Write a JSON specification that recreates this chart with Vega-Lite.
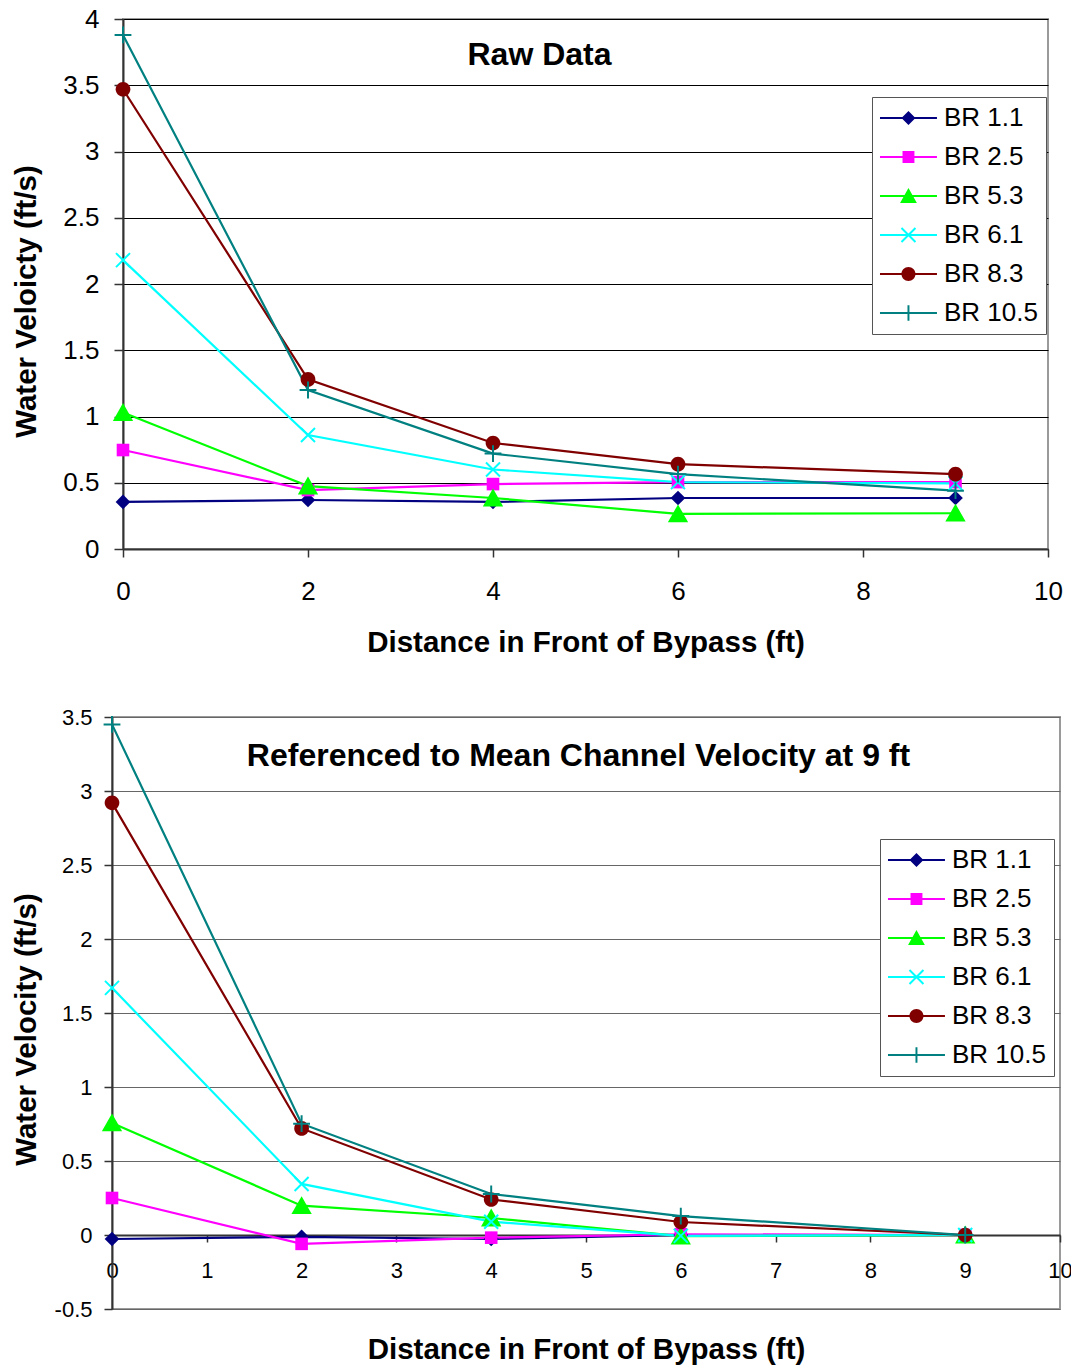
{
  "$schema": "https://vega.github.io/schema/vega-lite/v6.json",
  "background": "white",
  "padding": {"left": 9, "top": 5, "right": 0, "bottom": 0},
  "config": {
    "font": "Liberation Sans",
    "view": {"stroke": "#9a9a9a", "strokeWidth": 2},
    "axis": {"labelColor": "black", "titleColor": "black", "labelFont": "Liberation Sans", "titleFont": "Liberation Sans", "domainColor": "#333333", "domainWidth": 2, "tickColor": "#333333", "tickWidth": 1.5, "labelFlush": false},
    "point": {"filled": true, "opacity": 1, "size": 196, "strokeWidth": 0}
  },
  "datasets": {
    "raw": [
      {"series": "BR 1.1", "dist": 0, "v": 0.355}, {"series": "BR 1.1", "dist": 2, "v": 0.37}, {"series": "BR 1.1", "dist": 4, "v": 0.355}, {"series": "BR 1.1", "dist": 6, "v": 0.385}, {"series": "BR 1.1", "dist": 9, "v": 0.385},
      {"series": "BR 2.5", "dist": 0, "v": 0.747}, {"series": "BR 2.5", "dist": 2, "v": 0.445}, {"series": "BR 2.5", "dist": 4, "v": 0.49}, {"series": "BR 2.5", "dist": 6, "v": 0.505}, {"series": "BR 2.5", "dist": 9, "v": 0.505},
      {"series": "BR 5.3", "dist": 0, "v": 1.03}, {"series": "BR 5.3", "dist": 2, "v": 0.475}, {"series": "BR 5.3", "dist": 4, "v": 0.385}, {"series": "BR 5.3", "dist": 6, "v": 0.265}, {"series": "BR 5.3", "dist": 9, "v": 0.27},
      {"series": "BR 6.1", "dist": 0, "v": 2.18}, {"series": "BR 6.1", "dist": 2, "v": 0.86}, {"series": "BR 6.1", "dist": 4, "v": 0.6}, {"series": "BR 6.1", "dist": 6, "v": 0.505}, {"series": "BR 6.1", "dist": 9, "v": 0.495},
      {"series": "BR 8.3", "dist": 0, "v": 3.47}, {"series": "BR 8.3", "dist": 2, "v": 1.28}, {"series": "BR 8.3", "dist": 4, "v": 0.8}, {"series": "BR 8.3", "dist": 6, "v": 0.64}, {"series": "BR 8.3", "dist": 9, "v": 0.565},
      {"series": "BR 10.5", "dist": 0, "v": 3.88}, {"series": "BR 10.5", "dist": 2, "v": 1.2}, {"series": "BR 10.5", "dist": 4, "v": 0.72}, {"series": "BR 10.5", "dist": 6, "v": 0.565}, {"series": "BR 10.5", "dist": 9, "v": 0.44}
    ],
    "ref": [
      {"series": "BR 1.1", "dist": 0, "v": -0.027}, {"series": "BR 1.1", "dist": 2, "v": -0.012}, {"series": "BR 1.1", "dist": 4, "v": -0.027}, {"series": "BR 1.1", "dist": 6, "v": 0.0}, {"series": "BR 1.1", "dist": 9, "v": 0.0},
      {"series": "BR 2.5", "dist": 0, "v": 0.25}, {"series": "BR 2.5", "dist": 2, "v": -0.06}, {"series": "BR 2.5", "dist": 4, "v": -0.018}, {"series": "BR 2.5", "dist": 6, "v": 0.005}, {"series": "BR 2.5", "dist": 9, "v": 0.0},
      {"series": "BR 5.3", "dist": 0, "v": 0.757}, {"series": "BR 5.3", "dist": 2, "v": 0.198}, {"series": "BR 5.3", "dist": 4, "v": 0.115}, {"series": "BR 5.3", "dist": 6, "v": -0.008}, {"series": "BR 5.3", "dist": 9, "v": 0.0},
      {"series": "BR 6.1", "dist": 0, "v": 1.67}, {"series": "BR 6.1", "dist": 2, "v": 0.345}, {"series": "BR 6.1", "dist": 4, "v": 0.09}, {"series": "BR 6.1", "dist": 6, "v": -0.006}, {"series": "BR 6.1", "dist": 9, "v": 0.0},
      {"series": "BR 8.3", "dist": 0, "v": 2.92}, {"series": "BR 8.3", "dist": 2, "v": 0.72}, {"series": "BR 8.3", "dist": 4, "v": 0.24}, {"series": "BR 8.3", "dist": 6, "v": 0.088}, {"series": "BR 8.3", "dist": 9, "v": 0.0},
      {"series": "BR 10.5", "dist": 0, "v": 3.45}, {"series": "BR 10.5", "dist": 2, "v": 0.752}, {"series": "BR 10.5", "dist": 4, "v": 0.277}, {"series": "BR 10.5", "dist": 6, "v": 0.128}, {"series": "BR 10.5", "dist": 9, "v": 0.0}
    ]
  },
  "spacing": 47,
  "resolve": {"scale": {"color": "independent", "shape": "independent"}, "legend": {"color": "independent", "shape": "independent"}},
  "vconcat": [
    {"spacing": 0,
     "resolve": {"scale": {"color": "independent", "shape": "independent"}, "legend": {"color": "independent", "shape": "independent"}},
     "hconcat": [
    {"width": 1, "height": 1, "data": {"values": []}, "mark": "point", "view": {"stroke": null}},
    {
      "width": 925,
      "height": 530,
      "data": {"name": "raw"},
      "encoding": {
        "y": {"field": "v", "type": "quantitative", "scale": {"domain": [0, 4], "nice": false, "zero": false},
          "axis": {"values": [0, 0.5, 1, 1.5, 2, 2.5, 3, 3.5, 4], "grid": true, "gridColor": "black", "gridWidth": 1, "labelFontSize": 26, "tickSize": 9, "labelPadding": 15, "titleFontSize": 29.5, "titleFontWeight": "bold", "titlePadding": 21, "titleY": 282, "labelExpr": "'' + datum.value"},
          "title": "Water Veloicty (ft/s)"},
        "color": {"field": "series", "type": "nominal",
          "scale": {"domain": ["BR 1.1", "BR 2.5", "BR 5.3", "BR 6.1", "BR 8.3", "BR 10.5"], "range": ["#000080", "#ff00ff", "#00ff00", "#00ffff", "#800000", "#008080"]},
          "legend": {"orient": "none", "legendX": 749, "legendY": 78, "title": null, "labelFontSize": 26, "labelColor": "black", "labelFont": "Liberation Sans", "symbolSize": 196, "symbolStrokeWidth": 0, "symbolOpacity": 1, "labelOffset": 38, "rowPadding": 13, "padding": 8, "strokeColor": "#555555", "fillColor": "white", "labelLimit": 400}
        }
      },
      "layer": [
        {
          "encoding": {"x": {"field": "dist", "type": "quantitative", "scale": {"domain": [0, 10], "nice": false, "zero": false},
            "axis": {"values": [0, 2, 4, 6, 8, 10], "grid": false, "labelFontSize": 26, "tickSize": 8, "labelPadding": 21, "titleFontSize": 29.5, "titleFontWeight": "bold", "titlePadding": 24, "labelExpr": "'' + datum.value"},
            "title": "Distance in Front of Bypass (ft)"}},
          "layer": [
            {"mark": {"type": "line", "strokeWidth": 2.2}},
            {"transform": [{"filter": {"field": "series", "equal": "BR 1.1"}}], "mark": {"type": "point", "shape": "M0,-1.05L1.05,0L0,1.05L-1.05,0Z"}},
            {"transform": [{"filter": {"field": "series", "equal": "BR 2.5"}}], "mark": {"type": "point", "shape": "M-0.9,-0.9H0.9V0.9H-0.9Z"}},
            {"transform": [{"filter": {"field": "series", "equal": "BR 5.3"}}], "mark": {"type": "point", "shape": "M0,-1.35L1.45,1.2L-1.45,1.2Z"}},
            {"transform": [{"filter": {"field": "series", "equal": "BR 6.1"}}], "mark": {"type": "point", "shape": "M-0.9,-1.1L1.1,0.9L0.9,1.1L-1.1,-0.9Z M0.9,-1.1L1.1,-0.9L-0.9,1.1L-1.1,0.9Z"}},
            {"transform": [{"filter": {"field": "series", "equal": "BR 8.3"}}], "mark": {"type": "point", "shape": "M-1.05,0A1.05,1.05 0 1,1 1.05,0A1.05,1.05 0 1,1 -1.05,0Z"}},
            {"transform": [{"filter": {"field": "series", "equal": "BR 10.5"}}], "mark": {"type": "point", "shape": "M-0.14,-1.2H0.14V1.2H-0.14Z M-1.2,-0.14H1.2V0.14H-1.2Z"}}
          ]
        },
        {
          "mark": {"type": "point", "opacity": 0},
          "encoding": {
            "x": {"field": "dist", "type": "quantitative", "scale": {"domain": [0, 10], "nice": false, "zero": false},
              "axis": {"orient": "top", "labels": false, "ticks": false, "domain": false, "grid": false, "titleFontSize": 32, "titleFontWeight": "bold", "titleX": 416, "titleY": 35, "titleBaseline": "middle", "titleAlign": "center", "titleAngle": 0},
              "title": "Raw Data"},
            "shape": {"field": "series", "type": "nominal",
              "scale": {"domain": ["BR 1.1", "BR 2.5", "BR 5.3", "BR 6.1", "BR 8.3", "BR 10.5"],
                "range": [
                  "M-1.86,-0.15H6.28V0.15H-1.86Z M2.21,-1L3.21,0L2.21,1L1.21,0Z",
                  "M-1.86,-0.15H6.28V0.15H-1.86Z M1.36,-0.85H3.06V0.85H1.36Z",
                  "M-1.86,-0.15H6.28V0.15H-1.86Z M2.21,-1.15L3.41,1L1.01,1Z",
                  "M-1.86,-0.15H6.28V0.15H-1.86Z M1.31,-1.1L3.31,0.9L3.11,1.1L1.11,-0.9Z M3.11,-1.1L3.31,-0.9L1.31,1.1L1.11,0.9Z",
                  "M-1.86,-0.15H6.28V0.15H-1.86Z M1.21,0A1,1 0 1,1 3.21,0A1,1 0 1,1 1.21,0Z",
                  "M-1.86,-0.15H6.28V0.15H-1.86Z M2.07,-1.1H2.35V1.1H2.07Z M1.11,-0.14H3.31V0.14H1.11Z"]}}
          }
        }
      ],
      "resolve": {"axis": {"x": "independent"}}
    }]},
    {"spacing": 0,
     "resolve": {"scale": {"color": "independent", "shape": "independent"}, "legend": {"color": "independent", "shape": "independent"}},
     "hconcat": [
    {"width": 1, "height": 1, "data": {"values": []}, "mark": "point", "view": {"stroke": null}},
    {
      "width": 948,
      "height": 592,
      "data": {"name": "ref"},
      "encoding": {
        "y": {"field": "v", "type": "quantitative", "scale": {"domain": [-0.5, 3.5], "nice": false, "zero": false},
          "axis": {"values": [-0.5, 0, 0.5, 1, 1.5, 2, 2.5, 3, 3.5], "grid": true, "gridColor": "#666666", "gridWidth": 1, "labelFontSize": 22, "tickSize": 8, "labelPadding": 12, "titleFontSize": 29.5, "titleFontWeight": "bold", "titlePadding": 13, "titleY": 312, "labelExpr": "'' + datum.value"},
          "title": "Water Velocity (ft/s)"},
        "color": {"field": "series", "type": "nominal",
          "scale": {"domain": ["BR 1.1", "BR 2.5", "BR 5.3", "BR 6.1", "BR 8.3", "BR 10.5"], "range": ["#000080", "#ff00ff", "#00ff00", "#00ffff", "#800000", "#008080"]},
          "legend": {"orient": "none", "legendX": 768, "legendY": 122, "title": null, "labelFontSize": 26, "labelColor": "black", "labelFont": "Liberation Sans", "symbolSize": 196, "symbolStrokeWidth": 0, "symbolOpacity": 1, "labelOffset": 38, "rowPadding": 13, "padding": 8, "strokeColor": "#555555", "fillColor": "white", "labelLimit": 400}
        }
      },
      "layer": [
        {
          "encoding": {"x": {"field": "dist", "type": "quantitative", "scale": {"domain": [0, 10], "nice": false, "zero": false},
            "axis": {"values": [0, 1, 2, 3, 4, 5, 6, 7, 8, 9, 10], "grid": false, "offset": -74, "labelFontSize": 22, "tickSize": 7, "labelPadding": 18, "titleFontSize": 29.5, "titleFontWeight": "bold", "titlePadding": 54, "labelExpr": "'' + datum.value"},
            "title": "Distance in Front of Bypass (ft)"}},
          "layer": [
            {"mark": {"type": "line", "strokeWidth": 2.2}},
            {"transform": [{"filter": {"field": "series", "equal": "BR 1.1"}}], "mark": {"type": "point", "shape": "M0,-1.05L1.05,0L0,1.05L-1.05,0Z"}},
            {"transform": [{"filter": {"field": "series", "equal": "BR 2.5"}}], "mark": {"type": "point", "shape": "M-0.9,-0.9H0.9V0.9H-0.9Z"}},
            {"transform": [{"filter": {"field": "series", "equal": "BR 5.3"}}], "mark": {"type": "point", "shape": "M0,-1.35L1.45,1.2L-1.45,1.2Z"}},
            {"transform": [{"filter": {"field": "series", "equal": "BR 6.1"}}], "mark": {"type": "point", "shape": "M-0.9,-1.1L1.1,0.9L0.9,1.1L-1.1,-0.9Z M0.9,-1.1L1.1,-0.9L-0.9,1.1L-1.1,0.9Z"}},
            {"transform": [{"filter": {"field": "series", "equal": "BR 8.3"}}], "mark": {"type": "point", "shape": "M-1.05,0A1.05,1.05 0 1,1 1.05,0A1.05,1.05 0 1,1 -1.05,0Z"}},
            {"transform": [{"filter": {"field": "series", "equal": "BR 10.5"}}], "mark": {"type": "point", "shape": "M-0.14,-1.2H0.14V1.2H-0.14Z M-1.2,-0.14H1.2V0.14H-1.2Z"}}
          ]
        },
        {
          "mark": {"type": "point", "opacity": 0},
          "encoding": {
            "x": {"field": "dist", "type": "quantitative", "scale": {"domain": [0, 10], "nice": false, "zero": false},
              "axis": {"orient": "top", "labels": false, "ticks": false, "domain": false, "grid": false, "titleFontSize": 32, "titleFontWeight": "bold", "titleX": 466, "titleY": 38, "titleBaseline": "middle", "titleAlign": "center", "titleAngle": 0},
              "title": "Referenced to Mean Channel Velocity at 9 ft"},
            "shape": {"field": "series", "type": "nominal",
              "scale": {"domain": ["BR 1.1", "BR 2.5", "BR 5.3", "BR 6.1", "BR 8.3", "BR 10.5"],
                "range": [
                  "M-1.86,-0.15H6.28V0.15H-1.86Z M2.21,-1L3.21,0L2.21,1L1.21,0Z",
                  "M-1.86,-0.15H6.28V0.15H-1.86Z M1.36,-0.85H3.06V0.85H1.36Z",
                  "M-1.86,-0.15H6.28V0.15H-1.86Z M2.21,-1.15L3.41,1L1.01,1Z",
                  "M-1.86,-0.15H6.28V0.15H-1.86Z M1.31,-1.1L3.31,0.9L3.11,1.1L1.11,-0.9Z M3.11,-1.1L3.31,-0.9L1.31,1.1L1.11,0.9Z",
                  "M-1.86,-0.15H6.28V0.15H-1.86Z M1.21,0A1,1 0 1,1 3.21,0A1,1 0 1,1 1.21,0Z",
                  "M-1.86,-0.15H6.28V0.15H-1.86Z M2.07,-1.1H2.35V1.1H2.07Z M1.11,-0.14H3.31V0.14H1.11Z"]}}
          }
        }
      ],
      "resolve": {"axis": {"x": "independent"}}
    }]}
  ]
}
